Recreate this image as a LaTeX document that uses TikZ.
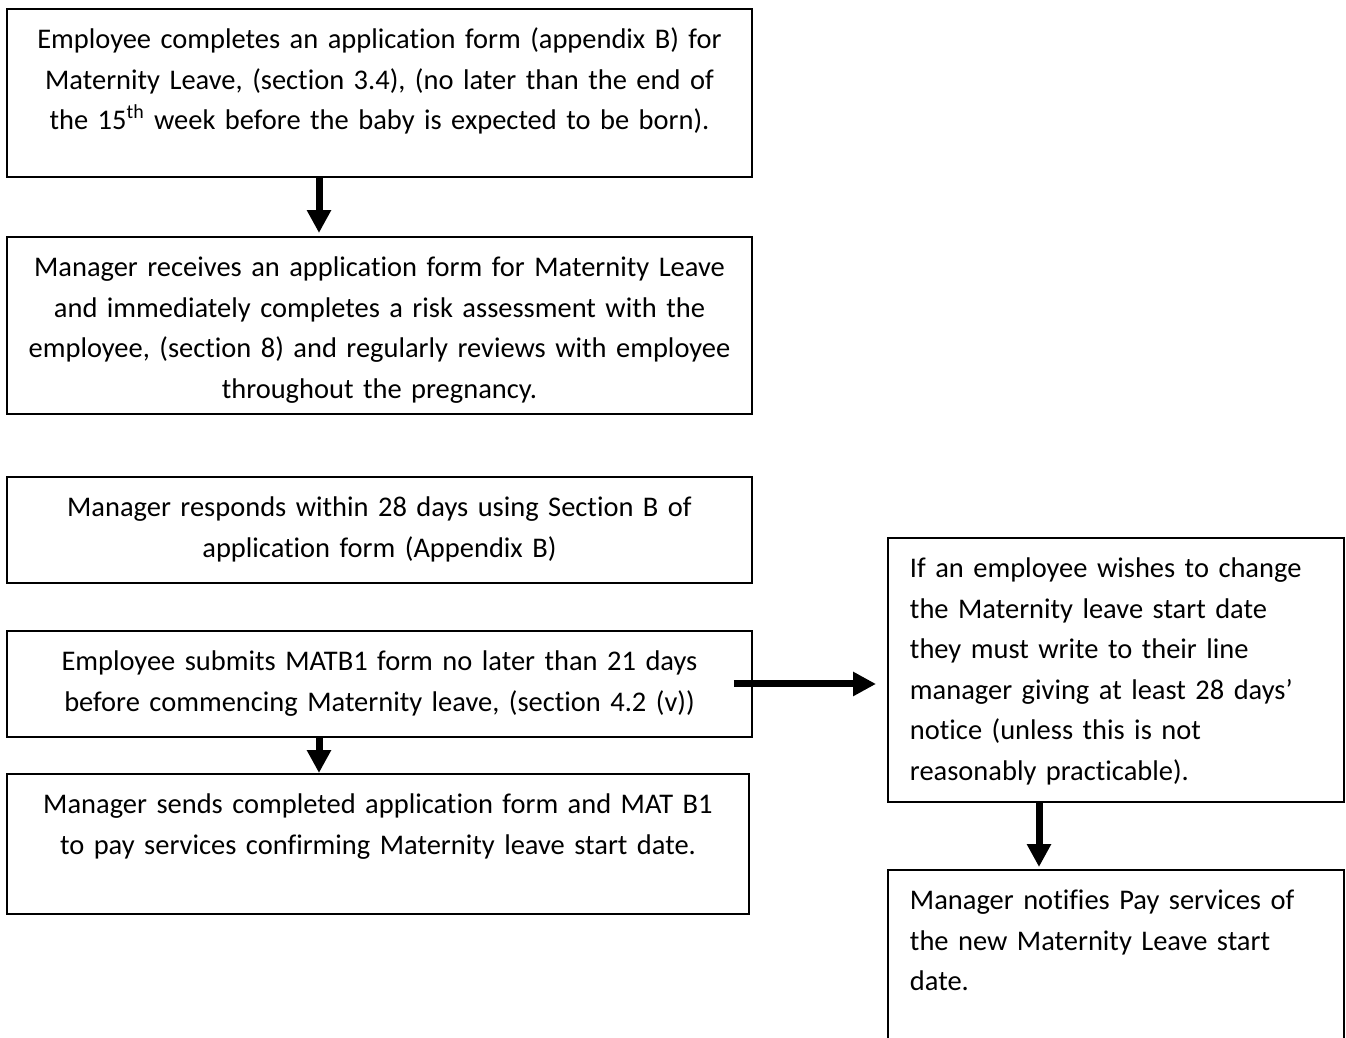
\documentclass[tikz,border=0pt]{standalone}
\usepackage{fontspec}
\setmainfont{Carlito}[Ligatures=NoCommon]
\usetikzlibrary{arrows.meta}

\tikzset{
  box/.style={draw, line width=1.1pt, anchor=north west, inner ysep=0pt,
    text height=0.8cm, font=\fontsize{16.2}{23}\selectfont},
  mid/.style={box, text width=14.9cm, inner xsep=0pt, align=center},
  side/.style={box, text width=8.24cm, inner xsep=0.44cm, align=left},
  flow/.style={line width=0.14cm, -{Triangle[length=0.46cm,width=0.46cm]}}
}

\begin{document}
\begin{tikzpicture}
\useasboundingbox (0,0) rectangle (26.92,-20.74);
\clip (0,0) rectangle (26.92,-20.74);
\node[mid, text depth=2.56cm] (1) at (0.12,-0.16) {Employee completes an application form (appendix B) for\\ Maternity Leave, (section 3.4), (no later than the end of\\ the 15\textsuperscript{th} week before the baby is expected to be born).};
\node[mid, text depth=2.74cm] (2) at (0.12,-4.72) {Manager receives an application form for Maternity Leave\\ and immediately completes a risk assessment with the\\ employee, (section 8) and regularly reviews with employee\\ throughout the pregnancy.};
\node[mid, text depth=1.32cm] (3) at (0.12,-9.52) {Manager responds within 28 days using Section B of\\ application form (Appendix B)};
\node[mid, text depth=1.32cm] (4) at (0.12,-12.6) {Employee submits MATB1 form no later than 21 days\\ before commencing Maternity leave, (section 4.2 (v))};
\node[mid, text width=14.84cm, text depth=2.0cm] (5) at (0.12,-15.46) {Manager sends completed application form and MAT B1\\ to pay services confirming Maternity leave start date.};
\node[side, text depth=4.48cm] (6) at (17.74,-10.74) {If an employee wishes to change\\ the Maternity leave start date\\ they must write to their line\\ manager giving at least 28 days’\\ notice (unless this is not\\ reasonably practicable).};
\node[side, text depth=3.1cm] (7) at (17.74,-17.38) {Manager notifies Pay services of\\ the new Maternity Leave start\\ date.};
\path[draw,flow,shorten >=0.06cm] (6.38,0 |- 1.south) -- (6.38,0 |- 2.north);
\path[draw,flow] (6.38,0 |- 4.south) -- (6.38,0 |- 5.north);
\path[draw,flow,shorten >=0.22cm] ([xshift=-0.38cm]4.east) -- (6.west |- 4.east);
\path[draw,flow,shorten >=0.04cm] (20.78,0 |- 6.south) -- (20.78,0 |- 7.north);
\end{tikzpicture}
\end{document}
